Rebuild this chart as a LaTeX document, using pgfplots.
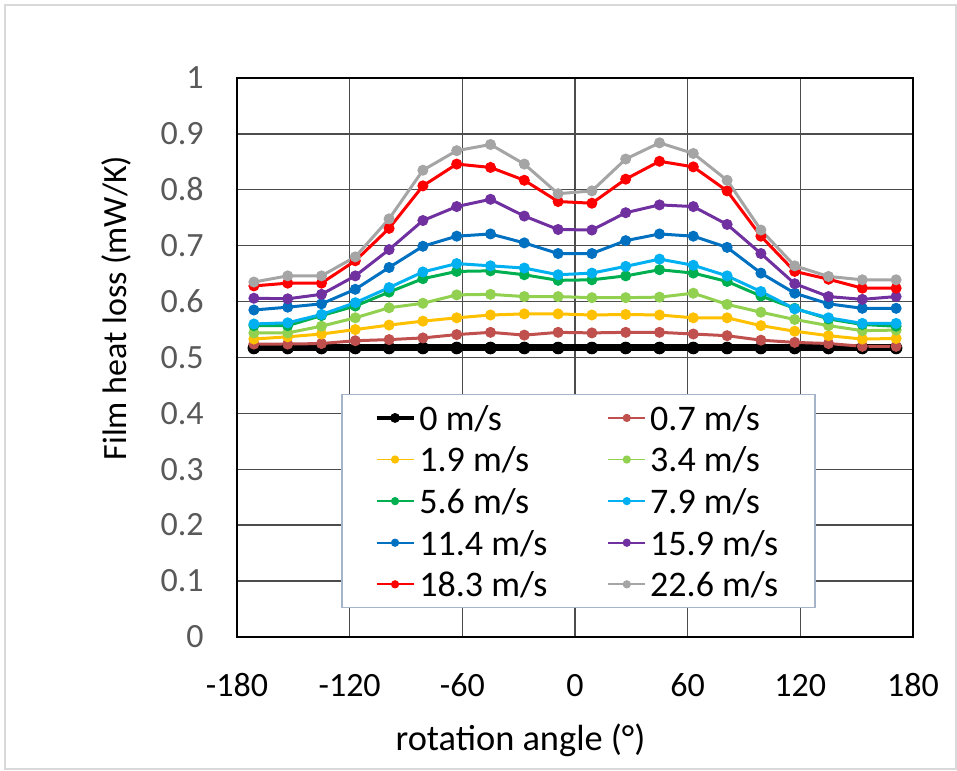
\documentclass[border=0pt]{standalone}
\usepackage{fontspec}
\setmainfont{Carlito}
\usepackage{pgfplots}
\usepackage{pgfplotstable}
\pgfplotsset{compat=1.18}

\definecolor{cbrown}{RGB}{192,80,77}
\definecolor{cgold}{RGB}{255,192,0}
\definecolor{clgreen}{RGB}{146,208,80}
\definecolor{cgreen}{RGB}{0,176,80}
\definecolor{clblue}{RGB}{0,176,240}
\definecolor{cblue}{RGB}{0,112,192}
\definecolor{cpurple}{RGB}{112,48,160}
\definecolor{cred}{RGB}{255,0,0}
\definecolor{cgray}{RGB}{165,165,165}
\definecolor{ticky}{RGB}{89,89,89}
\definecolor{legborder}{RGB}{165,180,200}

\pgfplotsset{
  thinlegend/.style={legend image code/.code={\draw[##1, line width=0.9pt, mark size=1.8pt, mark repeat=2, mark phase=2]
    plot coordinates {(0pt,0pt) (9.25pt,0pt) (18.5pt,0pt)};}},
  thicklegend/.style={legend image code/.code={\draw[##1, line width=1.8pt, mark size=2.2pt, mark repeat=2, mark phase=2]
    plot coordinates {(0pt,0pt) (9.25pt,0pt) (18.5pt,0pt)};}},
}

% film heat loss (mW/K) vs rotation angle, one column per wind speed
\pgfplotstableread{
x    b0    b07   b19   b34   b56   b79   b114  b159  b183  b226
-171 0.517 0.524 0.533 0.544 0.557 0.560 0.585 0.606 0.628 0.635
-153 0.517 0.524 0.537 0.544 0.557 0.562 0.590 0.605 0.633 0.646
-135 0.517 0.525 0.542 0.556 0.575 0.577 0.596 0.613 0.633 0.646
-117 0.517 0.530 0.550 0.571 0.592 0.598 0.622 0.646 0.673 0.680
-99  0.517 0.532 0.558 0.589 0.617 0.625 0.661 0.693 0.731 0.748
-81  0.517 0.535 0.565 0.597 0.641 0.653 0.699 0.745 0.807 0.835
-63  0.517 0.541 0.571 0.612 0.654 0.668 0.717 0.770 0.846 0.870
-45  0.517 0.545 0.576 0.613 0.655 0.664 0.721 0.783 0.840 0.881
-27  0.517 0.540 0.578 0.609 0.648 0.660 0.705 0.753 0.817 0.846
-9   0.517 0.545 0.578 0.609 0.638 0.648 0.686 0.729 0.779 0.793
9    0.517 0.544 0.576 0.607 0.639 0.651 0.686 0.728 0.776 0.798
27   0.517 0.545 0.577 0.607 0.646 0.663 0.709 0.759 0.819 0.855
45   0.517 0.545 0.576 0.608 0.657 0.676 0.721 0.773 0.851 0.884
63   0.517 0.542 0.571 0.615 0.651 0.665 0.717 0.770 0.841 0.865
81   0.517 0.539 0.571 0.595 0.636 0.646 0.697 0.738 0.798 0.817
99   0.517 0.531 0.557 0.581 0.610 0.618 0.651 0.686 0.717 0.728
117  0.517 0.527 0.547 0.568 0.588 0.587 0.615 0.632 0.654 0.664
135  0.517 0.525 0.539 0.557 0.569 0.571 0.596 0.609 0.640 0.645
153  0.517 0.520 0.533 0.548 0.559 0.561 0.588 0.604 0.624 0.639
171  0.517 0.520 0.534 0.549 0.556 0.561 0.588 0.609 0.624 0.639
}\data

\begin{document}
\begin{tikzpicture}
\useasboundingbox (-118.5pt,-66.5pt) rectangle (360pt,318.5pt);
\draw[black!15, line width=0.8pt] (-116pt,-66pt) rectangle (359.5pt,316pt);
\begin{axis}[
  at={(0,0)}, anchor=south west,
  scale only axis,
  width=338pt, height=279.5pt,
  xmin=-180, xmax=180, ymin=0, ymax=1,
  xtick={-180,-120,-60,0,60,120,180},
  xticklabels={-180,-120,-60,0,60,120,180},
  ytick={0,0.1,0.2,0.3,0.4,0.5,0.6,0.7,0.8,0.9,1},
  yticklabels={0,0.1,0.2,0.3,0.4,0.5,0.6,0.7,0.8,0.9,1},
  grid=major,
  grid style={black!70, line width=0.7pt},
  axis line style={black, line width=1pt},
  major tick length=0pt,
  tick label style={font=\fontsize{17}{20}\selectfont},
  yticklabel style={text=ticky, anchor=base east, inner sep=0pt, xshift=-16.5pt, yshift=-5.4pt},
  xticklabel style={anchor=base, inner sep=0pt, yshift=-29.8pt},
  xlabel={rotation angle (°)},
  xlabel style={at={(rel axis cs:0.4194,-0.2022)}, anchor=base, inner sep=0pt, font=\fontsize{18.2}{21}\selectfont},
  ylabel={Film heat loss (mW/K)},
  ylabel style={at={(rel axis cs:-0.164,0.5886)}, anchor=base, inner sep=0pt, font=\fontsize{17}{20}\selectfont},
  legend columns=2,
  legend cell align=left,
  legend style={at={(rel axis cs:0.1538,0.435)}, anchor=north west,
    draw=legborder, line width=0.8pt, fill=white,
    inner xsep=16.5pt, inner ysep=2pt,
    font=\fontsize{18}{21}\selectfont,
    cells={inner xsep=0.5pt, inner ysep=1pt, text height=13.8pt, text depth=1.2pt},
    row sep=1.5pt,
    /tikz/every odd column/.append style={column sep=0pt},
    /tikz/every even column/.append style={column sep=28pt}},
  thinlegend,
  every axis plot/.append style={line width=1.5pt, mark=*, mark size=2.5pt, mark options={line width=0.5pt}},
]
\addplot[black, line width=3.5pt, mark size=2.9pt, thicklegend]
  table[x=x, y=b0] {\data};
\addlegendentry{0 m/s}
\addplot[cbrown] table[x=x, y=b07] {\data};
\addlegendentry{0.7 m/s}
\addplot[cgold] table[x=x, y=b19] {\data};
\addlegendentry{1.9 m/s}
\addplot[clgreen] table[x=x, y=b34] {\data};
\addlegendentry{3.4 m/s}
\addplot[cgreen] table[x=x, y=b56] {\data};
\addlegendentry{5.6 m/s}
\addplot[clblue] table[x=x, y=b79] {\data};
\addlegendentry{7.9 m/s}
\addplot[cblue] table[x=x, y=b114] {\data};
\addlegendentry{11.4 m/s}
\addplot[cpurple] table[x=x, y=b159] {\data};
\addlegendentry{15.9 m/s}
\addplot[cred] table[x=x, y=b183] {\data};
\addlegendentry{18.3 m/s}
\addplot[cgray] table[x=x, y=b226] {\data};
\addlegendentry{22.6 m/s}
\end{axis}
\end{tikzpicture}
\end{document}
